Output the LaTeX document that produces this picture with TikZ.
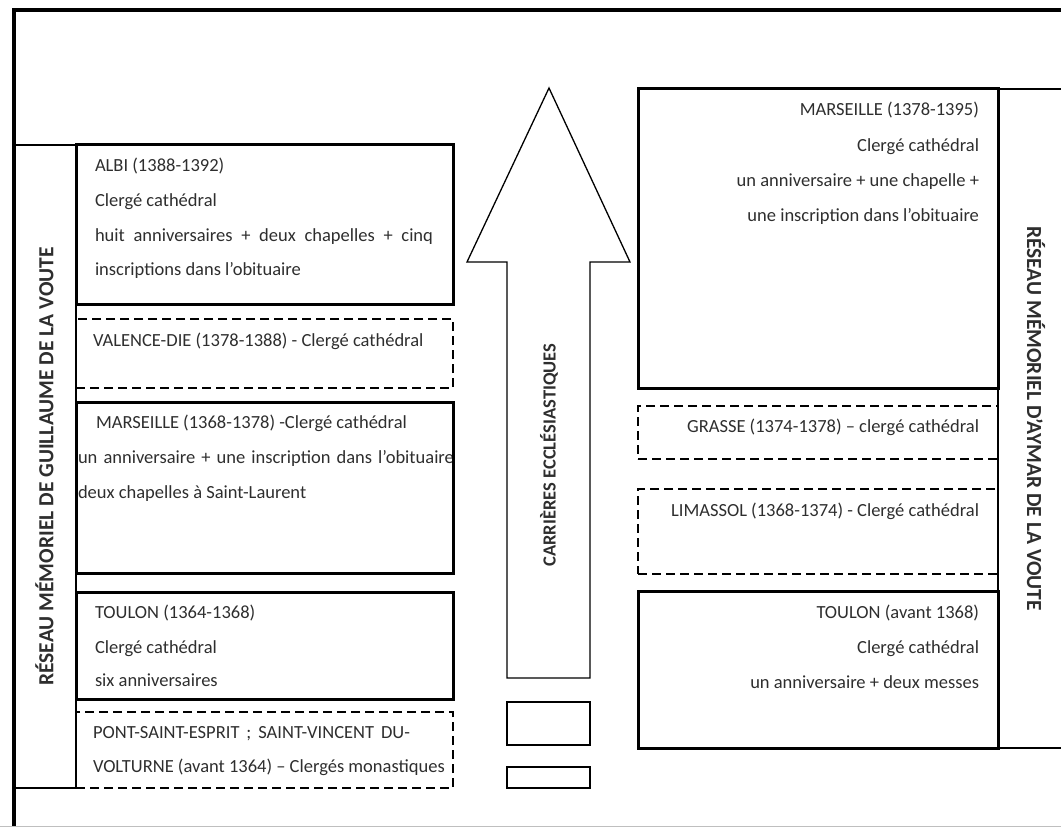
\documentclass[tikz,border=0pt]{standalone}
\usepackage{fontspec}
\setmainfont{Carlito}
\definecolor{txtgray}{HTML}{2E2E2E}
\begin{document}
\begin{tikzpicture}[x=1pt,y=-1pt,
  every node/.style={inner sep=0pt,outer sep=0pt},
  txt/.style={text=txtgray,font=\fontsize{18.5}{22}\selectfont},
  lefttxt/.style={txt,anchor=base west},
  righttxt/.style={txt,anchor=base east},
  solidbox/.style={draw,line width=3pt},
  dashbox/.style={draw,line width=1.5pt,dash pattern=on 9pt off 5pt},
  leftcol/.style={minimum width=377pt},
  rightcol/.style={minimum width=360pt},
  band/.style={draw,line width=1.3pt,text=txtgray,font=\fontsize{21.5}{24}\selectfont\bfseries},
  stepbox/.style={draw,line width=1.8pt,minimum width=83pt}]
\useasboundingbox (0,0) rectangle (1061,827);
% frame
\draw[line width=4.5pt] (14,835) -- (14,10) -- (1070,10);
\draw[gray!50,line width=1pt] (0,826.5) -- (1061,826.5);
% side bands
\node[band,rotate=90,minimum width=643pt,minimum height=63pt] (guillaume) at (44.5,466.5) {RÉSEAU MÉMORIEL DE GUILLAUME DE LA VOUTE};
\node[band,rotate=-90,minimum width=659pt,minimum height=76pt] (aymar) at (1036,418.5) {RÉSEAU MÉMORIEL D’AYMAR DE LA VOUTE};
% left column text
\node[lefttxt] (albi1) at (95,171) {ALBI (1388-1392)};
\node[lefttxt] (albi2) at (95,206) {Clergé cathédral};
\node[lefttxt] (albi3) at (95,241) {\makebox[338pt][s]{huit anniversaires + deux chapelles + cinq}};
\node[lefttxt] (albi4) at (95,275) {inscriptions dans l’obituaire};
\node[lefttxt] (valence1) at (93,346) {VALENCE-DIE (1378-1388) - Clergé cathédral};
\node[lefttxt] (marsa1) at (96,428) {MARSEILLE (1368-1378) -Clergé cathédral};
\node[lefttxt] (marsa2) at (78,463) {\makebox[376pt][s]{un anniversaire + une inscription dans l’obituaire}};
\node[lefttxt] (marsa3) at (78,498) {deux chapelles à Saint-Laurent};
\node[lefttxt] (toulona1) at (95,618) {TOULON (1364-1368)};
\node[lefttxt] (toulona2) at (95,653) {Clergé cathédral};
\node[lefttxt] (toulona3) at (95,686) {six anniversaires};
\node[lefttxt] (pont1) at (93,738) {\makebox[317pt][s]{PONT-SAINT-ESPRIT ; SAINT-VINCENT DU-}};
\node[lefttxt] (pont2) at (93,772) {VOLTURNE (avant 1364) – Clergés monastiques};
% left column boxes
\node[solidbox,leftcol,minimum height=160pt] (albi) at (264.5,224) {};
\node[dashbox,leftcol,minimum height=69pt] (valence) at (264.5,353.5) {};
\node[solidbox,leftcol,minimum height=171pt] (marsa) at (264.5,487.5) {};
\node[solidbox,leftcol,minimum height=107pt] (toulona) at (264.5,645.5) {};
\node[dashbox,leftcol,minimum height=76pt] (pont) at (264.5,750) {};
% right column text
\node[righttxt] (marsb1) at (979,115) {MARSEILLE (1378-1395)};
\node[righttxt] (marsb2) at (979,151) {Clergé cathédral};
\node[righttxt] (marsb3) at (979,186) {un anniversaire + une chapelle +};
\node[righttxt] (marsb4) at (979,221) {une inscription dans l’obituaire};
\node[righttxt] (grasse1) at (979,432) {GRASSE (1374-1378) – clergé cathédral};
\node[righttxt] (limassol1) at (979,516) {LIMASSOL (1368-1374) - Clergé cathédral};
\node[righttxt] (toulonb1) at (979,618) {TOULON (avant 1368)};
\node[righttxt] (toulonb2) at (979,653) {Clergé cathédral};
\node[righttxt] (toulonb3) at (979,688) {un anniversaire + deux messes};
% right column boxes
\node[solidbox,rightcol,minimum height=300pt] (marsb) at (818,238) {};
\node[dashbox,rightcol,minimum height=53pt] (grasse) at (818,432.5) {};
\node[dashbox,rightcol,minimum height=85pt] (limassol) at (818,531.5) {};
\node[solidbox,rightcol,minimum height=157pt] (toulonb) at (818,669.5) {};
% arrow
\coordinate (tip) at (549,88);
\coordinate (headl) at (467,262);
\coordinate (headr) at (630,262);
\draw[line width=1.3pt,line join=miter] (tip) -- (headr) -- (590,262) -- (590,678)
  -- (507,678) -- (507,262) -- (headl) -- cycle;
\node[txt,font=\fontsize{18.5}{22}\selectfont\bfseries,rotate=90] (carrieres) at (549,455) {CARRIÈRES ECCLÉSIASTIQUES};
\node[stepbox,minimum height=43pt] (stepa) at (548.5,723.5) {};
\node[stepbox,minimum height=21pt] (stepb) at (548.5,777.5) {};
\end{tikzpicture}
\end{document}
